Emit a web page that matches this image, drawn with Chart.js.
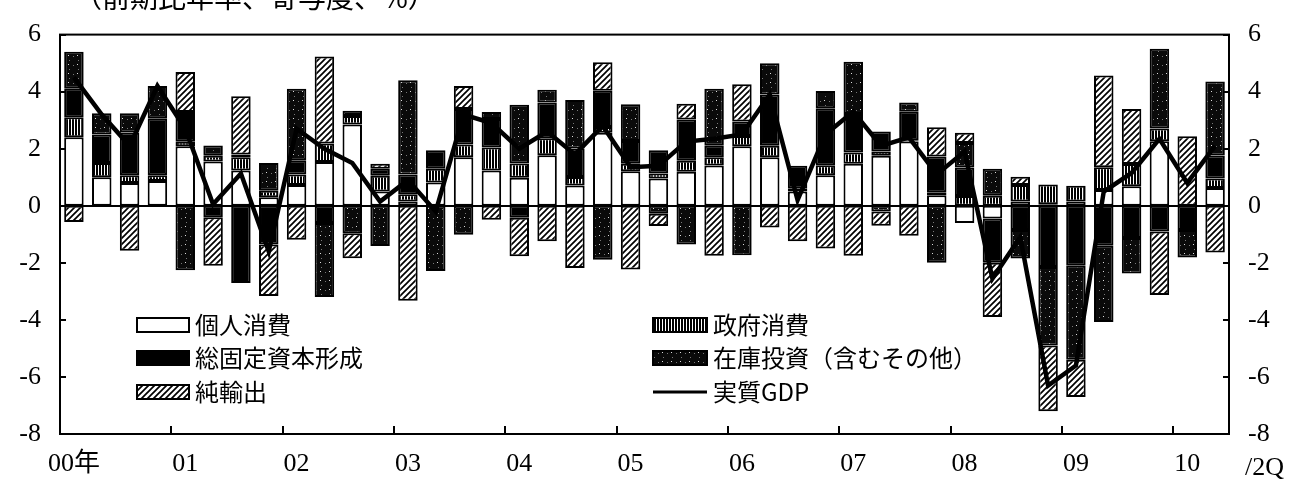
<!DOCTYPE html>
<html>
<head>
<meta charset="utf-8">
<script src="https://cdn.jsdelivr.net/npm/chart.js@4/dist/chart.umd.min.js"></script>
<style>
  html, body { margin: 0; padding: 0; background: #fff; }
  #wrap { width: 1303px; height: 495px; }
</style>
</head>
<body>
<div id="wrap"><canvas id="chart" width="1303" height="495"></canvas></div>
<script>
// 2000Q1 .. 2010Q2
const years = ['00', '01', '02', '03', '04', '05', '06', '07', '08', '09', '10']
const yearLabels = ['00年', '01', '02', '03', '04', '05', '06', '07', '08', '09', '10']
const lastLabel = '/2Q'
const title = '（前期比年率、寄与度、%）'

const personal = [2.4, 1.0, 0.8, 0.87, 2.09, 1.55, 1.24, 0.3, 0.73, 1.53, 2.85, 0.5, 0.15, 0.82, 1.7, 1.24, 0.98, 1.77, 0.71, 2.56, 1.21,
  0.96, 1.19, 1.41, 2.09, 1.7, 0.5, 1.07, 1.47, 1.75, 2.25, 0.37, -0.6, -0.45, 0.15, 0.05, 0.15, 0.55, 0.68, 2.26, 0, 0.62]
const government = [0.7, 0.5, 0.27, 0.2, 0.15, 0.2, 0.46, 0.23, 0.37, 0.65, 0.3, 0.55, 0.25, 0.48, 0.45, 0.8, 0.5, 0.6, 0.3, 0.2, 0.26,
  0.17, 0.39, 0.29, 0.36, 0.4, 0.1, 0.35, 0.4, 0.15, 0.05, 0.1, 0.34, 0.35, 0.58, 0.7, 0.55, 0.8, 0.78, 0.45, 0, 0.34]
const fixedInvestment = [1.0, 1.0, 1.5, 2.0, 1.05, -0.4, -2.71, -1.36, 0.5, -0.6, 0.18, 0.25, 0.7, 0.65, 1.24, 1.0, -0.42, 1.25, 1.0, 1.27, 0.8,
  0.82, 1.44, 0.4, 0.5, 1.8, 0.8, 2.0, 1.35, 0.7, 1.0, 1.26, 1.0, -1.55, -0.85, -2.15, -2.1, -1.4, -1.13, -0.9, -0.85, 0.8]
const inventory = [1.3, 0.74, 0.67, 1.13, -2.26, 0.36, 0.1, 0.97, 2.5, -2.6, -0.96, -1.41, 3.3, -2.29, -1.02, 0.25, 2.06, 0.45, 1.7, -1.89, 1.29,
  -0.28, -1.36, 2.0, -1.73, 1.1, 0, 0.6, 1.83, -0.2, 0.32, -2.0, 0.86, 0.95, -1.0, -2.75, -3.3, -2.67, -1.24, 2.79, -0.96, 2.6]
const netExports = [-0.57, 0, -1.58, 0, 1.4, -1.7, 2.04, -1.8, -1.19, 3.05, -0.88, 0.17, -3.33, 0, 0.81, -0.49, -1.35, -1.24, -2.18, 1.0, -2.23,
  -0.43, 0.56, -1.75, 1.31, -0.76, -1.24, -1.5, -1.75, -0.5, -1.05, 1.02, 0.36, -1.9, 0.29, -2.3, -1.3, 3.22, 1.93, -2.23, 2.44, -1.64]
const realGdp = [4.5, 3.2, 2.1, 4.2, 2.7, 0.05, 1.13, -1.6, 2.7, 2.0, 1.5, 0.15, 0.9, -0.2, 3.2, 2.9, 2.0, 2.6, 1.8, 2.8, 1.35,
  1.4, 2.25, 2.35, 2.5, 3.9, 0.2, 2.5, 3.3, 2.1, 2.4, 1.1, 1.9, -2.55, -1.1, -6.3, -5.6, 0.5, 1.15, 2.35, 0.8, 2.1]

const categories = []
years.forEach(y => {
  for (let q = 1; q <= 4; q++) categories.push(y + 'Q' + q)
})
categories.length = realGdp.length

const yTicks = [-8, -6, -4, -2, 0, 2, 4, 6]

const serif = "'Liberation Serif', 'Noto Sans CJK JP', serif"
const gothic = "'Noto Sans CJK JP', sans-serif"

function makePattern(w, h, draw) {
  const c = document.createElement('canvas')
  c.width = w
  c.height = h
  const g = c.getContext('2d')
  draw(g)
  return g.createPattern(c, 'repeat')
}

// vertical stripes
const stripes = makePattern(3, 4, g => {
  g.fillStyle = '#000'
  g.fillRect(0, 0, 3, 4)
  g.fillStyle = '#fff'
  g.fillRect(2, 0, 1, 4)
})

// dark stipple, almost black with a few light specks
const stipple = makePattern(9, 9, g => {
  g.fillStyle = '#0a0a0a'
  g.fillRect(0, 0, 9, 9)
  g.fillStyle = '#777'
  g.fillRect(1, 2, 1, 1)
  g.fillRect(6, 6, 1, 1)
  g.fillStyle = '#ddd'
  g.fillRect(5, 1, 1, 1)
})

// diagonal hatch
const hatch = makePattern(6, 6, g => {
  g.fillStyle = '#fff'
  g.fillRect(0, 0, 6, 6)
  g.strokeStyle = '#000'
  g.lineWidth = 1.7
  g.beginPath()
  g.moveTo(-1, 7); g.lineTo(7, -1)
  g.moveTo(-1, 1); g.lineTo(1, -1)
  g.moveTo(5, 7); g.lineTo(7, 5)
  g.stroke()
})

const barSeries = [
  { label: '個人消費', data: personal, fill: '#fff' },
  { label: '政府消費', data: government, fill: stripes },
  { label: '総固定資本形成', data: fixedInvestment, fill: '#000' },
  { label: '在庫投資（含むその他）', data: inventory, fill: stipple },
  { label: '純輸出', data: netExports, fill: hatch }
]
const gdpLabel = '実質GDP'

// legend: two columns, order as in the original
const legendLeft = [0, 2, 4]
const legendRight = [1, 3, 'gdp']

const decor = {
  id: 'decor',
  afterDraw(chart) {
    const { ctx, chartArea: a, scales: { x, y } } = chart
    const line = (x1, y1, x2, y2) => {
      ctx.beginPath()
      ctx.moveTo(x1, y1)
      ctx.lineTo(x2, y2)
      ctx.stroke()
    }
    ctx.save()
    ctx.strokeStyle = '#000'
    ctx.lineWidth = 2

    // zero line and frame
    const y0 = Math.round(y.getPixelForValue(0))
    line(a.left, y0, a.right, y0)
    ctx.strokeRect(a.left, a.top, a.right - a.left, a.bottom - a.top)

    // inward ticks
    yTicks.forEach(v => {
      const py = Math.round(y.getPixelForValue(v))
      line(a.left, py, a.left + 6, py)
      line(a.right - 6, py, a.right, py)
    })
    for (let i = 4; i < categories.length; i += 4) {
      const px = Math.round((x.getPixelForValue(i - 1) + x.getPixelForValue(i)) / 2)
      line(px, a.bottom, px, a.bottom - 8)
    }

    // title (cut at the top edge) and end label
    ctx.fillStyle = '#000'
    ctx.font = '28px ' + gothic
    ctx.textBaseline = 'alphabetic'
    ctx.textAlign = 'left'
    ctx.fillText(title, 74, 8)
    ctx.font = '26px ' + serif
    ctx.textBaseline = 'middle'
    ctx.fillText(lastLabel, 1245, 468)

    // legend
    ctx.font = '24px ' + gothic
    const drawItem = (key, bx, cy, w) => {
      if (key === 'gdp') {
        ctx.lineWidth = 3
        line(bx, cy, bx + w, cy)
        ctx.fillStyle = '#000'
        ctx.fillText(gdpLabel, bx + w + 6, cy)
        return
      }
      const s = barSeries[key]
      ctx.fillStyle = s.fill
      ctx.fillRect(bx, cy - 7, w, 14)
      ctx.lineWidth = 2
      ctx.strokeRect(bx, cy - 7, w, 14)
      ctx.fillStyle = '#000'
      ctx.fillText(s.label, bx + w + 6, cy)
    }
    const rows = [325, 358, 392]
    legendLeft.forEach((k, i) => drawItem(k, 137, rows[i], 52))
    legendRight.forEach((k, i) => drawItem(k, 653, rows[i], 54))
    ctx.restore()
  }
}

const ctx = document.getElementById('chart').getContext('2d')

new Chart(ctx, {
  data: {
    labels: categories,
    datasets: [
      {
        type: 'line',
        label: gdpLabel,
        data: realGdp,
        borderColor: '#000',
        borderWidth: 4.5,
        pointRadius: 0,
        fill: false,
        tension: 0,
        stack: 'gdp',
        order: 0
      },
      ...barSeries.map(s => ({
        type: 'bar',
        label: s.label,
        data: s.data,
        backgroundColor: s.fill,
        borderColor: '#000',
        borderWidth: 2,
        borderSkipped: false,
        barPercentage: 0.7,
        categoryPercentage: 1,
        stack: 'parts',
        order: 1
      }))
    ]
  },
  options: {
    responsive: false,
    devicePixelRatio: 1,
    animation: false,
    layout: { padding: { top: 21, left: 0, right: 0, bottom: 0 } },
    plugins: {
      legend: { display: false },
      tooltip: { enabled: false }
    },
    scales: {
      x: {
        stacked: true,
        grid: { display: false, drawTicks: false },
        border: { display: false },
        ticks: {
          autoSkip: false,
          maxRotation: 0,
          color: '#000',
          padding: 15,
          font: { size: 26, family: serif },
          callback: (value, index) => index % 4 === 0 ? yearLabels[index / 4] : ''
        },
        afterFit: (scale) => { scale.height = 61 }
      },
      y: {
        position: 'left',
        stacked: true,
        min: -8,
        max: 6,
        grid: { display: false, drawTicks: false },
        border: { display: false },
        ticks: { stepSize: 2, color: '#000', padding: 19, font: { size: 26, family: serif } },
        afterFit: (scale) => { scale.width = 60 }
      },
      y2: {
        position: 'right',
        min: -8,
        max: 6,
        grid: { display: false, drawTicks: false },
        border: { display: false },
        ticks: { stepSize: 2, color: '#000', padding: 19, font: { size: 26, family: serif } },
        afterFit: (scale) => { scale.width = 74 }
      }
    }
  },
  plugins: [decor]
})
</script>
</body>
</html>
